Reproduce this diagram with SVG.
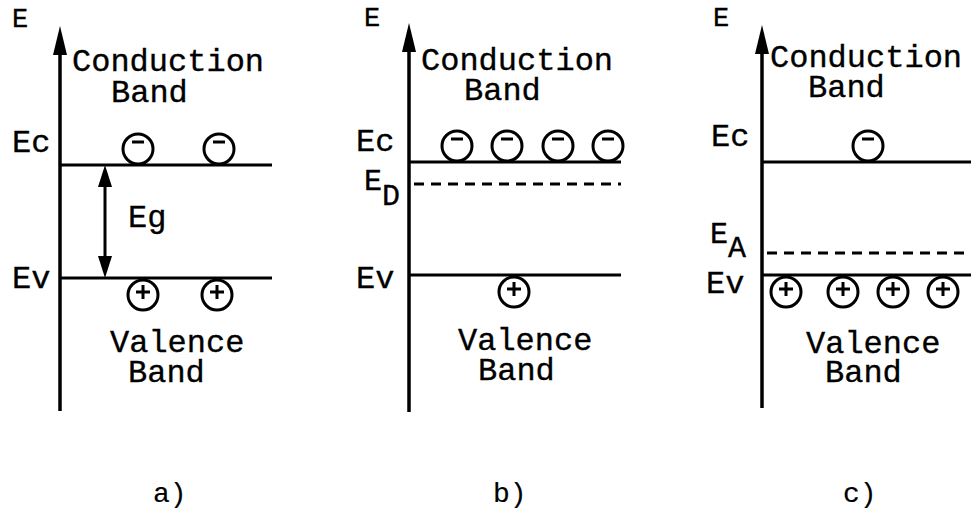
<svg xmlns="http://www.w3.org/2000/svg" width="971" height="510" viewBox="0 0 971 510">
<style>
text{font-family:"Liberation Mono","Courier New",monospace;font-size:32px;fill:#000;stroke:#000;stroke-width:0.35}
.ax{font-size:27px}
.sub{font-size:30px}
.lbl{font-size:28px;stroke-width:0.2}
.ln{stroke:#000;stroke-width:3;fill:none}
.axis{stroke:#000;stroke-width:3.5;fill:none}
.dash{stroke:#000;stroke-width:3;fill:none;stroke-dasharray:10 7}
.c{stroke:#000;stroke-width:3;fill:#fff}
.s{stroke:#000;stroke-width:3;fill:none}
.hd{fill:#000}
</style>
<rect width="971" height="510" fill="#fff"/>
<g id="connectors">
  <line class="axis" x1="60" y1="48" x2="60" y2="411"/>
  <polygon class="hd" points="60,26 53,55 67,55"/>
  <line class="axis" x1="409" y1="45" x2="409" y2="412"/>
  <polygon class="hd" points="409,23 402,52 416,52"/>
  <line class="axis" x1="762" y1="47" x2="762" y2="408"/>
  <polygon class="hd" points="762,25 755,54 769,54"/>
  <line class="ln" x1="105" y1="180" x2="105" y2="262"/>
  <polygon class="hd" points="105,165 98,187 112,187"/>
  <polygon class="hd" points="105,278 98,256 112,256"/>
</g>
<g id="panel-a">
  <text class="ax" x="12" y="27">E</text>
  <text x="72" y="71">Conduction</text>
  <text x="111" y="102">Band</text>
  <text x="12" y="152">Ec</text>
  <text x="12" y="288">Ev</text>
  <text x="128" y="227">Eg</text>
  <text x="110" y="352">Valence</text>
  <text x="128" y="382">Band</text>
  <line class="ln" x1="60" y1="165" x2="272" y2="165"/>
  <line class="ln" x1="60" y1="278" x2="272" y2="278"/>
  <g id="a-e1"><circle class="c" cx="138" cy="149" r="15"/><line class="s" x1="132" y1="142" x2="144" y2="142"/></g>
  <g id="a-e2"><circle class="c" cx="219" cy="149" r="15"/><line class="s" x1="213" y1="142" x2="225" y2="142"/></g>
  <g id="a-h1"><circle class="c" cx="143" cy="295" r="15"/><path class="s" d="M136 292H150M143 285V299"/></g>
  <g id="a-h2"><circle class="c" cx="217" cy="295" r="15"/><path class="s" d="M210 292H224M217 285V299"/></g>
  <text class="lbl" x="153" y="502">a)</text>
</g>
<g id="panel-b">
  <text class="ax" x="364" y="26">E</text>
  <text x="421" y="70">Conduction</text>
  <text x="464" y="100">Band</text>
  <text x="356" y="151">Ec</text>
  <text class="sub" x="364" y="190">E</text>
  <text class="sub" x="382" y="205">D</text>
  <text x="356" y="288">Ev</text>
  <text x="458" y="350">Valence</text>
  <text x="478" y="380">Band</text>
  <line class="ln" x1="409" y1="162" x2="621" y2="162"/>
  <line class="dash" x1="414" y1="184" x2="621" y2="184"/>
  <line class="ln" x1="409" y1="275" x2="621" y2="275"/>
  <g id="b-e1"><circle class="c" cx="457" cy="146" r="15"/><line class="s" x1="451" y1="139" x2="463" y2="139"/></g>
  <g id="b-e2"><circle class="c" cx="507" cy="146" r="15"/><line class="s" x1="501" y1="139" x2="513" y2="139"/></g>
  <g id="b-e3"><circle class="c" cx="558" cy="146" r="15"/><line class="s" x1="552" y1="139" x2="564" y2="139"/></g>
  <g id="b-e4"><circle class="c" cx="608" cy="146" r="15"/><line class="s" x1="602" y1="139" x2="614" y2="139"/></g>
  <g id="b-h1"><circle class="c" cx="514" cy="292" r="15"/><path class="s" d="M507 289H521M514 282V296"/></g>
  <text class="lbl" x="493" y="502">b)</text>
</g>
<g id="panel-c">
  <text class="ax" x="713" y="26">E</text>
  <text x="770" y="67">Conduction</text>
  <text x="808" y="97">Band</text>
  <text x="711" y="146">Ec</text>
  <text class="sub" x="710" y="243">E</text>
  <text class="sub" x="728" y="257">A</text>
  <text x="706" y="293">Ev</text>
  <text x="806" y="353">Valence</text>
  <text x="825" y="382">Band</text>
  <line class="ln" x1="762" y1="162" x2="971" y2="162"/>
  <line class="dash" x1="767" y1="253" x2="971" y2="253"/>
  <line class="ln" x1="762" y1="275" x2="971" y2="275"/>
  <g id="c-e1"><circle class="c" cx="868" cy="146" r="15"/><line class="s" x1="862" y1="139" x2="874" y2="139"/></g>
  <g id="c-h1"><circle class="c" cx="786" cy="292" r="15"/><path class="s" d="M779 289H793M786 282V296"/></g>
  <g id="c-h2"><circle class="c" cx="843" cy="292" r="15"/><path class="s" d="M836 289H850M843 282V296"/></g>
  <g id="c-h3"><circle class="c" cx="893" cy="292" r="15"/><path class="s" d="M886 289H900M893 282V296"/></g>
  <g id="c-h4"><circle class="c" cx="943" cy="292" r="15"/><path class="s" d="M936 289H950M943 282V296"/></g>
  <text class="lbl" x="843" y="502">c)</text>
</g>
</svg>
